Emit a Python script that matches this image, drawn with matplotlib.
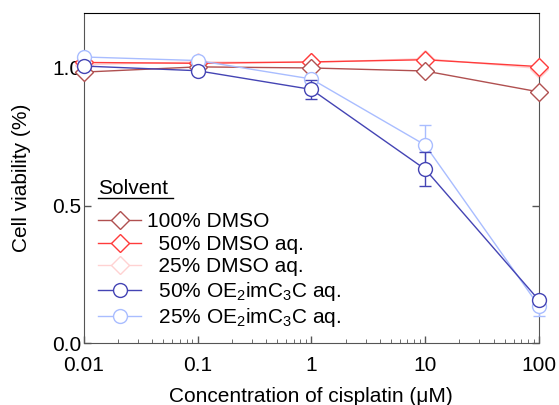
import matplotlib
matplotlib.use("Agg")
import matplotlib.pyplot as plt
import numpy as np

plt.rcParams['font.family'] = ['Liberation Sans', 'DejaVu Sans']
plt.rcParams['mathtext.fontset'] = 'custom'
plt.rcParams['mathtext.rm'] = 'Liberation Sans'
plt.rcParams['mathtext.it'] = 'Liberation Sans'

#   data
conc = [0.01, 0.1, 1, 10, 100]
dmso100 = [0.985, 1.004, 1.000, 0.989, 0.913]
dmso50 = [1.020, 1.017, 1.022, 1.030, 1.005]
dmso25 = [1.012, 1.022, 1.020, 1.034, 0.998]
oe50 = [1.007, 0.990, 0.922, 0.632, 0.156]
oe50_err = [0.0, 0.0, 0.035, 0.062, 0.0]
oe25 = [1.040, 1.027, 0.960, 0.720, 0.135]
oe25_err = [0.0, 0.0, 0.0, 0.072, 0.035]

labels = ['100% DMSO', '  50% DMSO aq.', '  25% DMSO aq.',
          '  50% OE$_2$imC$_3$C aq.', '  25% OE$_2$imC$_3$C aq.']

c_dmso100 = '#b05050'
c_dmso50 = '#ff3b3b'
c_dmso25 = '#ffd2d2'
c_oe50 = '#4444b4'
c_oe25 = '#a9bdff'

FS = 15

fig = plt.figure(figsize=(5.59, 4.05), dpi=100)
ax = fig.add_axes([0.150, 0.153, 0.814, 0.815])

dkw = dict(marker='D', markersize=9.5, markerfacecolor='white', lw=1.0, mew=1.0,
           clip_on=False)
okw = dict(marker='o', markersize=10, markerfacecolor='white', lw=1.0, mew=1.0,
           clip_on=False)

h3 = ax.plot(conc, dmso25, color=c_dmso25, zorder=2, **dkw)[0]
h2 = ax.plot(conc, dmso50, color=c_dmso50, zorder=3, **dkw)[0]
h1 = ax.plot(conc, dmso100, color=c_dmso100, zorder=4, **dkw)[0]
e5 = ax.errorbar(conc, oe25, yerr=oe25_err, color=c_oe25, capsize=4,
                 elinewidth=1.0, capthick=1.0, zorder=5, **okw)
e4 = ax.errorbar(conc, oe50, yerr=oe50_err, color=c_oe50, capsize=4,
                 elinewidth=1.0, capthick=1.0, zorder=6, **okw)
h5 = e5.lines[0]
h4 = e4.lines[0]

ax.set_xscale('log')
ax.set_xlim(0.01, 100)
ax.set_ylim(0, 1.2)
ax.set_yticks([0.0, 0.5, 1.0])
ax.set_yticklabels(['0.0', '0.5', '1.0'])
ax.set_xticks(conc)
ax.set_xticklabels(['0.01', '0.1', '1', '10', '100'])
ax.tick_params(axis='both', labelsize=FS, direction='in', length=5,
               width=1, colors='#555555', labelcolor='black')
ax.tick_params(axis='y', right=True, pad=2)
ax.tick_params(axis='x', pad=9)
ax.tick_params(axis='x', which='minor', direction='in', length=3, colors='#555555')

for side in ['left', 'bottom', 'right']:
    ax.spines[side].set_color('#555555')
ax.spines['top'].set_color('black')

ax.set_xlabel('Concentration of cisplatin (\u03bcM)', fontsize=FS, labelpad=9)
ax.set_ylabel('Cell viability (%)', fontsize=FS, labelpad=15)

#   legend with underlined "Solvent" heading
leg = ax.legend([h1, h2, h3, h4, h5], labels, loc='lower left',
                bbox_to_anchor=(0.012, 0.016), frameon=False, fontsize=FS,
                handlelength=2.1, handletextpad=0.25, labelspacing=0.17,
                borderaxespad=0.0)
ax.text(0.031, 0.452, 'Solvent', transform=ax.transAxes, fontsize=FS,
        ha='left', va='baseline')
ax.plot([0.031, 0.196], [0.439, 0.439], transform=ax.transAxes, color='black',
        lw=1.0, clip_on=False)

fig.savefig('out.png', dpi=100)
